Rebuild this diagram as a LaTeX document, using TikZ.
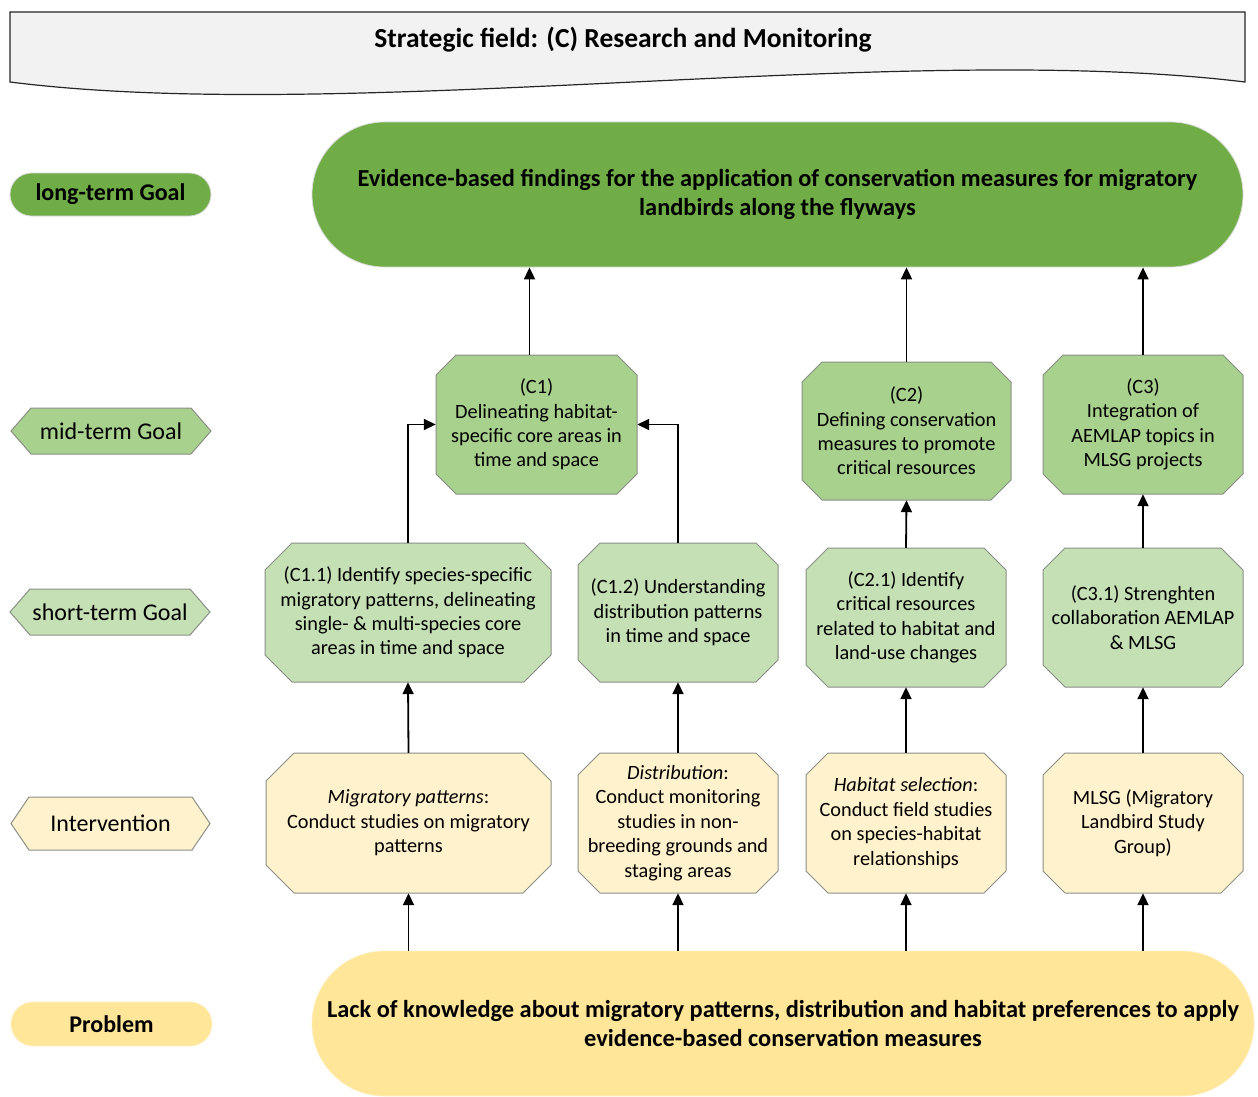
\documentclass[tikz,border=0pt]{standalone}
\usepackage{fontspec}
\setmainfont{Carlito}
\usetikzlibrary{arrows.meta}
\definecolor{gdark}{HTML}{70AD47}
\definecolor{gmid}{HTML}{A9D18E}
\definecolor{glight}{HTML}{C5E0B4}
\definecolor{ylight}{HTML}{FFF2CC}
\definecolor{ydark}{HTML}{FFE699}
\definecolor{bannerfill}{HTML}{F2F2F2}
\definecolor{octline}{HTML}{8A8F86}
\definecolor{pillline}{HTML}{DADADA}
\newcommand{\octnode}[8]{%
 \pgfmathsetmacro\oxa{#2}\pgfmathsetmacro\oya{#3}%
 \pgfmathsetmacro\oxb{#4}\pgfmathsetmacro\oyb{#5}%
 \pgfmathsetmacro\ocx{(#2+#4)/2}\pgfmathsetmacro\ocy{(#3+#5)/2}%
 \pgfmathsetmacro\ow{#4-#2}\pgfmathsetmacro\oh{#5-#3}%
 \filldraw[fill=#7,draw=octline,line width=1pt] (\oxa+#6,\oya) -- (\oxb-#6,\oya) -- (\oxb,\oya+#6) -- (\oxb,\oyb-#6) -- (\oxb-#6,\oyb) -- (\oxa+#6,\oyb) -- (\oxa,\oyb-#6) -- (\oxa,\oya+#6) -- cycle;%
 \node[boxtext, minimum width=\ow pt, minimum height=\oh pt] (#1) at (\ocx,\ocy) {#8};}
\newcommand{\hexnode}[8]{%
 \pgfmathsetmacro\oxa{#2}\pgfmathsetmacro\oya{#3}%
 \pgfmathsetmacro\oxb{#4}\pgfmathsetmacro\oyb{#5}%
 \pgfmathsetmacro\ocx{(#2+#4)/2}\pgfmathsetmacro\ocy{(#3+#5)/2}%
 \pgfmathsetmacro\ow{#4-#2}\pgfmathsetmacro\oh{#5-#3}%
 \filldraw[fill=#7,draw=octline,line width=1pt] (\oxa+#6,\oya) -- (\oxb-#6,\oya) -- (\oxb,\ocy) -- (\oxb-#6,\oyb) -- (\oxa+#6,\oyb) -- (\oxa,\ocy) -- cycle;%
 \node[labeltext, minimum width=\ow pt, minimum height=\oh pt] (#1) at (\ocx,\ocy) {#8};}
\begin{document}
\begin{tikzpicture}[x=1pt,y=-1pt,
  boxtext/.style={inner sep=0pt,align=center,text=black,font=\fontsize{20.3}{24.4}\selectfont},
  labeltext/.style={inner sep=0pt,align=center,text=black,font=\fontsize{24}{28}\selectfont},
  bigtext/.style={inner sep=0pt,align=center,text=black,font=\bfseries\fontsize{24.4}{29}\selectfont},
  pill/.style={rectangle,draw=pillline,line width=0.8pt,inner sep=0pt,align=center},
  arr/.style={line width=1.8pt,draw=black,-{Triangle[width=11pt,length=12pt]}}]
\useasboundingbox (0,0) rectangle (1258,1097);
% banner
\filldraw[fill=bannerfill,draw=black!85,line width=1.2pt] (10,12) -- (1245,12) -- (1245,82)
  .. controls (900,40) and (350,125) .. (10,82) -- cycle;
\node[inner sep=0pt,font=\bfseries\fontsize{27.5}{32}\selectfont] (title) at (623,40) {Strategic field: (C) Research and Monitoring};
% left labels
\node[pill,fill=gdark,minimum width=201pt,minimum height=43pt,rounded corners=21.5pt,font=\bfseries\fontsize{24}{28}\selectfont] (lblL) at (110.5,194.5) {long-term Goal};
\hexnode{lblM}{11}{408}{211}{454}{20}{gmid}{mid-term Goal}
\hexnode{lblS}{10}{589}{210}{635}{20}{glight}{short-term Goal}
\hexnode{lblI}{11}{797}{210}{850}{18}{ylight}{Intervention}
\node[pill,fill=ydark,draw=ydark!60!white,minimum width=201pt,minimum height=44pt,rounded corners=22pt,font=\bfseries\fontsize{24}{28}\selectfont] (lblP) at (111.5,1024) {Problem};
% long-term goal
\node[pill,fill=gdark,minimum width=931pt,minimum height=145pt,rounded corners=72.5pt,bigtext] (lt) at (777.5,194.5)
 {Evidence-based findings for the application of conservation measures for migratory\\landbirds along the flyways};
% problem
\node[pill,fill=ydark,draw=ydark!60!white,minimum width=942pt,minimum height=145pt,rounded corners=72.5pt,bigtext] (prob) at (783,1023.5)
 {Lack of knowledge about migratory patterns, distribution and habitat preferences to apply\\evidence-based conservation measures};
% mid-term
\octnode{c1}{436}{355}{637}{494}{20}{gmid}{(C1)\\Delineating habitat-\\specific core areas in\\time and space}
\octnode{c2}{802}{362}{1011}{500}{20}{gmid}{(C2)\\Defining conservation\\measures to promote\\critical resources}
\octnode{c3}{1043}{355}{1243}{494}{20}{gmid}{(C3)\\Integration of\\AEMLAP topics in\\MLSG projects}
% short-term
\octnode{c11}{265}{543}{551}{682}{27}{glight}{(C1.1) Identify species-specific\\migratory patterns, delineating\\single- \& multi-species core\\areas in time and space}
\octnode{c12}{578}{543}{778}{682}{22}{glight}{(C1.2) Understanding\\distribution patterns\\in time and space}
\octnode{c21}{806}{548}{1006}{687}{22}{glight}{(C2.1) Identify\\critical resources\\related to habitat and\\land-use changes}
\octnode{c31}{1043}{548}{1243}{687}{22}{glight}{(C3.1) Strenghten\\collaboration AEMLAP\\\& MLSG}
% interventions
\octnode{i1}{266}{753}{551}{893}{28}{ylight}{\textit{Migratory patterns}:\\Conduct studies on migratory\\patterns}
\octnode{i2}{578}{753}{778}{893}{22}{ylight}{\textit{Distribution}:\\Conduct monitoring\\studies in non-\\breeding grounds and\\staging areas}
\octnode{i3}{806}{753}{1006}{893}{22}{ylight}{\textit{Habitat selection}:\\Conduct field studies\\on species-habitat\\relationships}
\octnode{i4}{1043}{753}{1243}{893}{22}{ylight}{MLSG (Migratory\\Landbird Study\\Group)}
% connectors
\draw[arr] ([xshift=-7pt]c1.north) -- ([xshift=-7pt]c1.north |- lt.south);
\draw[arr] (c2.north) -- (c2.north |- lt.south);
\draw[arr] (c3.north) -- (c3.north |- lt.south);
\draw[arr] (c11.north) |- (c1.west);
\draw[arr] (c12.north) |- (c1.east);
\draw[arr] (c21.north) -- (c2.south);
\draw[arr] (c31.north) -- (c3.south);
\draw[arr] (i1.north) -- (c11.south);
\draw[arr] (i2.north) -- (c12.south);
\draw[arr] (i3.north) -- (c21.south);
\draw[arr] (i4.north) -- (c31.south);
\draw[arr] (i1.south |- prob.north) -- (i1.south);
\draw[arr] (i2.south |- prob.north) -- (i2.south);
\draw[arr] (i3.south |- prob.north) -- (i3.south);
\draw[arr] (i4.south |- prob.north) -- (i4.south);
\end{tikzpicture}
\end{document}
